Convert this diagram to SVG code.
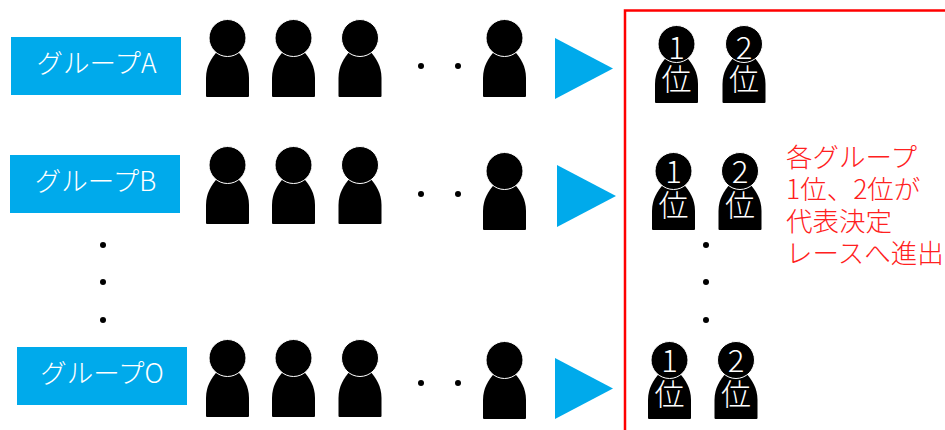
<svg xmlns="http://www.w3.org/2000/svg" width="945" height="430" viewBox="0 0 945 430">
<style>
text{font-family:"Noto Sans CJK JP","Noto Sans",sans-serif;font-weight:300}
.box{fill:#00aaeb}
.lbl{fill:#fff;font-size:26.500px;text-anchor:middle}
.tri{fill:#00aaeb}
.dot{fill:#000}
.n{fill:#fff;font-size:31px;text-anchor:middle}
.k{fill:#fff;font-size:30px;text-anchor:middle}
.note{fill:#ff2020;font-size:26.500px}
</style>
<defs>
<g id="person">
<path d="M-20.500 77H20.500Q21.500 77 21.500 76V58C21.500 46 16 38 10 31H-10C-16 38 -21.500 46 -21.500 58V76Q-21.500 77 -20.500 77Z" fill="#000"/>
<circle cx="0" cy="18" r="18.500" fill="#000" stroke="#fff" stroke-width="1"/>
</g>
</defs>
<rect id="frame" x="625" y="10.500" width="340" height="440" fill="none" stroke="#ff0000" stroke-width="2.500"/>
<g id="group-a"><rect class="box" x="11" y="37" width="170" height="58"/><text class="lbl" x="96.500" y="73">グループA</text></g>
<g id="group-b"><rect class="box" x="10" y="155" width="170" height="58"/><text class="lbl" x="95.500" y="191">グループB</text></g>
<g id="group-o"><rect class="box" x="17" y="347" width="170" height="58"/><text class="lbl" x="102" y="383">グループO</text></g>
<g id="people-a">
<use href="#person" x="227.500" y="20"/><use href="#person" x="293.500" y="20"/><use href="#person" x="360" y="20"/><use href="#person" x="504.500" y="20"/>
<circle class="dot" cx="421" cy="66" r="3"/><circle class="dot" cx="458" cy="66" r="3"/>
</g>
<g id="people-b">
<use href="#person" x="227.500" y="147"/><use href="#person" x="293.500" y="147"/><use href="#person" x="360" y="147"/><use href="#person" x="504.500" y="153"/>
<circle class="dot" cx="421" cy="194" r="3"/><circle class="dot" cx="458" cy="194" r="3"/>
</g>
<g id="people-o">
<use href="#person" x="227.500" y="340"/><use href="#person" x="293.500" y="340"/><use href="#person" x="360" y="340"/><use href="#person" x="504.500" y="342"/>
<circle class="dot" cx="421" cy="383" r="3"/><circle class="dot" cx="458" cy="383" r="3"/>
</g>
<g id="connectors">
<polygon class="tri" points="555,38 613,68.500 555,99"/>
<polygon class="tri" points="557,165 616,196 557,227"/>
<polygon class="tri" points="555,358 613,388.500 555,419"/>
</g>
<g id="dots-left"><circle class="dot" cx="103" cy="245" r="3"/><circle class="dot" cx="103" cy="282" r="3"/><circle class="dot" cx="103" cy="320" r="3"/></g>
<g id="dots-right"><circle class="dot" cx="706" cy="245" r="3"/><circle class="dot" cx="706" cy="282" r="3"/><circle class="dot" cx="706" cy="320" r="3"/></g>
<g id="rank-a1"><use href="#person" x="676.500" y="26"/><text class="n" x="676.500" y="59">1</text><text class="k" x="676.500" y="90">位</text></g>
<g id="rank-a2"><use href="#person" x="744" y="26"/><text class="n" x="744" y="59">2</text><text class="k" x="744" y="90">位</text></g>
<g id="rank-b1"><use href="#person" x="673.500" y="153"/><text class="n" x="673.500" y="183">1</text><text class="k" x="673.500" y="216">位</text></g>
<g id="rank-b2"><use href="#person" x="740" y="153"/><text class="n" x="740" y="183">2</text><text class="k" x="740" y="216">位</text></g>
<g id="rank-o1"><use href="#person" x="669.500" y="342"/><text class="n" x="669.500" y="372">1</text><text class="k" x="669.500" y="405">位</text></g>
<g id="rank-o2"><use href="#person" x="736" y="342"/><text class="n" x="736" y="372">2</text><text class="k" x="736" y="405">位</text></g>
<g id="note">
<text class="note" x="786" y="167">各グループ</text>
<text class="note" x="786" y="199">1位、2位が</text>
<text class="note" x="786" y="231">代表決定</text>
<text class="note" x="786" y="263">レースへ進出</text>
</g>
</svg>
